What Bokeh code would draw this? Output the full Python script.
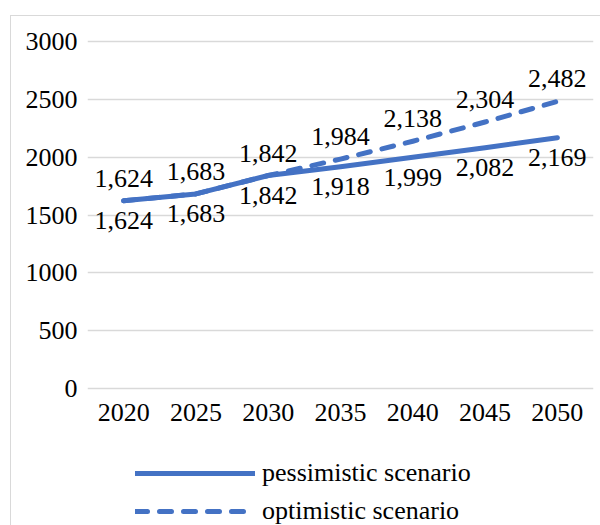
from bokeh.plotting import figure
from bokeh.models import ColumnDataSource, LabelSet, Legend, LegendItem, Range1d, FactorRange
from bokeh.embed import file_html
from bokeh.resources import INLINE

years = ["2020", "2025", "2030", "2035", "2040", "2045", "2050"]
pessimistic = [1624, 1683, 1842, 1918, 1999, 2082, 2169]
optimistic = [1624, 1683, 1842, 1984, 2138, 2304, 2482]
y_ticks = [0, 500, 1000, 1500, 2000, 2500, 3000]

FONT = "'Liberation Serif', 'Times New Roman', serif"
BLUE = "#4472C4"

src = ColumnDataSource(dict(
    x=years,
    pes=pessimistic,
    opt=optimistic,
    zero=[0] * len(years),
    pes_t=[f"{v:,}" for v in pessimistic],
    opt_t=[f"{v:,}" for v in optimistic],
))

p = figure(
    width=590, height=510,
    x_range=FactorRange(*years, range_padding=0),
    y_range=Range1d(-1190, 3017),
    output_backend="svg", toolbar_location=None,
    min_border_left=76, min_border_right=8, min_border_top=23, min_border_bottom=0,
)
p.margin = (15, 0, 0, 10)
p.styles = {"border-left": "1px solid #d9d9d9", "border-top": "1px solid #d9d9d9"}
p.outline_line_color = None
p.background_fill_color = "white"
p.border_fill_color = "white"

r1 = p.line("x", "pes", source=src, line_color=BLUE, line_width=5, line_cap="round", line_join="round")
r2 = p.line("x", "opt", source=src, line_color=BLUE, line_width=5, line_cap="round", line_join="round",
            line_dash="12 12")

p.xgrid.grid_line_color = None
p.ygrid.grid_line_color = "#d9d9d9"
p.ygrid.grid_line_width = 1.5
p.yaxis.ticker = y_ticks
p.xaxis.visible = False

yax = p.yaxis[0]
yax.axis_line_color = None
yax.major_tick_line_color = None
yax.minor_tick_line_color = None
yax.major_tick_in = 0
yax.major_tick_out = 0
yax.major_label_text_font = FONT
yax.major_label_text_font_size = "26px"
yax.major_label_text_color = "black"
yax.major_label_standoff = 10

# category labels under the zero line
p.add_layout(LabelSet(x="x", y="zero", text="x", source=src, y_offset=-24,
                      text_align="center", text_baseline="middle",
                      text_font=FONT, text_font_size="26px", text_color="black"))

p.add_layout(LabelSet(x="x", y="opt", text="opt_t", source=src, y_offset=22.5,
                      text_align="center", text_baseline="middle",
                      text_font=FONT, text_font_size="26px", text_color="black"))
p.add_layout(LabelSet(x="x", y="pes", text="pes_t", source=src, y_offset=-20,
                      text_align="center", text_baseline="middle",
                      text_font=FONT, text_font_size="26px", text_color="black"))

legend = Legend(
    items=[LegendItem(label="pessimistic scenario", renderers=[r1]),
           LegendItem(label="optimistic scenario", renderers=[r2])],
    location=(48, 0),
    orientation="vertical",
    glyph_width=120, glyph_height=30, label_height=30, spacing=8,
    label_standoff=7, padding=0, margin=0,
    label_text_font=FONT, label_text_font_size="26px", label_text_color="black",
    background_fill_alpha=0, border_line_color=None,
)
p.add_layout(legend, "center")

open("out.html", "w").write(file_html(p, INLINE))
